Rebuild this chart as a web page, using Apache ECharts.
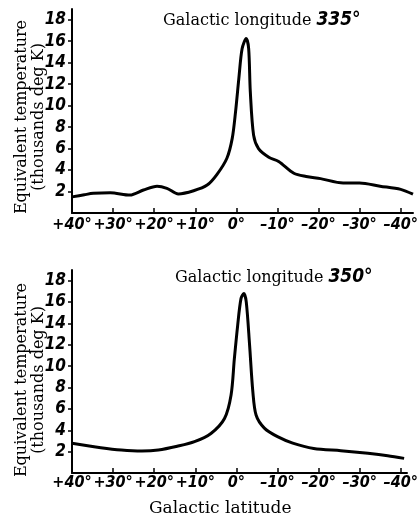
<!DOCTYPE html>
<html lang="en">
<head>
    <meta charset="UTF-8">
    <title>Galactic latitude profiles</title>
    <script src="https://cdn.jsdelivr.net/npm/echarts@6/dist/echarts.min.js"></script>
    <style>
        html, body { margin: 0; padding: 0; background: #fff; }
    </style>
</head>
<body>
    <div id="main" style="width:417px; height:519px;"></div>
    <script type="text/javascript">
        // longitude 335 deg profile (latitude, thousands deg K)
        var lat335 = [40, 37, 34.8, 30.7, 25.9, 22.6, 19.3, 16.9, 14.1, 10.4, 7.1, 4.7, 2.3, 1.0, 0.2, -0.6, -1.4, -2.4, -3.0, -3.4, -4.2, -5.4, -7.9, -10.3, -14, -17, -20.5, -26, -30, -35, -40, -43];
        var temp335 = [1.5, 1.7, 1.83, 1.89, 1.67, 2.14, 2.5, 2.3, 1.77, 2.07, 2.6, 3.6, 5.1, 6.95, 9.4, 12.5, 15.3, 16.25, 15.3, 11.3, 7.25, 6.0, 5.2, 4.8, 3.7, 3.4, 3.2, 2.8, 2.8, 2.5, 2.2, 1.75];

        // longitude 350 deg profile
        var lat350 = [40, 33, 28, 23, 19, 14.4, 10.2, 6.2, 2.9, 1.3, 0.5, -0.3, -1.1, -1.8, -2.4, -3.2, -4.0, -4.8, -6.8, -10, -13.7, -18.8, -25.4, -32, -36.8, -40.8];
        var temp350 = [2.78, 2.37, 2.15, 2.06, 2.15, 2.5, 2.93, 3.7, 5.1, 7.3, 10.7, 13.8, 16.3, 16.8, 16.0, 12.0, 7.6, 5.4, 4.2, 3.4, 2.8, 2.3, 2.08, 1.84, 1.62, 1.37];

        var yTicks = [2, 4, 6, 8, 10, 12, 14, 16, 18];
        var xTicks = [40, 30, 20, 10, 0, -10, -20, -30, -40];

        var numFont = "'Liberation Sans Narrow', 'DejaVu Sans Condensed', 'Liberation Sans', sans-serif";
        var textFont = "'DejaVu Serif', 'Liberation Serif', serif";

        function pairs(xs, ys) {
            var out = [];
            for (var i = 0; i < xs.length; i++) out.push([xs[i], ys[i]]);
            return out;
        }

        function latLabel(v) {
            if (v > 0) return '+' + v + '°';
            if (v < 0) return '\u2013' + (-v) + '°';
            return '0°';
        }

        function xAxisCfg(gridIndex, minVal, margin) {
            return {
                type: 'value',
                gridIndex: gridIndex,
                inverse: true,
                min: minVal,
                max: 40,
                axisLine: { onZero: false, lineStyle: { color: '#000', width: 2 } },
                axisTick: { inside: true, length: 5, customValues: xTicks, lineStyle: { color: '#000', width: 1.5 } },
                axisLabel: {
                    customValues: xTicks,
                    formatter: latLabel,
                    margin: margin,
                    showMinLabel: true,
                    showMaxLabel: true,
                    hideOverlap: false,
                    color: '#000',
                    fontFamily: numFont,
                    fontSize: 16,
                    fontStyle: 'italic',
                    fontWeight: 'bold'
                },
                splitLine: { show: false }
            };
        }

        function yAxisCfg(gridIndex) {
            return {
                type: 'value',
                gridIndex: gridIndex,
                min: 0,
                max: 19,
                axisLine: { show: true, onZero: false, lineStyle: { color: '#000', width: 2 } },
                axisTick: { show: true, length: 4, customValues: yTicks, lineStyle: { color: '#000', width: 1.5 } },
                axisLabel: {
                    customValues: yTicks,
                    margin: 6,
                    color: '#000',
                    fontFamily: numFont,
                    fontSize: 17,
                    fontStyle: 'italic',
                    fontWeight: 'bold'
                },
                splitLine: { show: false }
            };
        }

        function yName(cy) {
            return {
                type: 'text',
                x: 30,
                y: cy,
                rotation: Math.PI / 2,
                style: {
                    text: 'Equivalent temperature\n(thousands deg K)',
                    font: '16px ' + textFont,
                    fill: '#000',
                    align: 'center',
                    verticalAlign: 'middle',
                    lineHeight: 17
                }
            };
        }

        var titleRich = {
            a: { fontFamily: textFont, fontSize: 16, fontWeight: 'normal', color: '#000' },
            b: { fontFamily: numFont, fontSize: 19, fontStyle: 'italic', fontWeight: 'bold', color: '#000' }
        };

        var myChart = echarts.init(document.getElementById('main'));

        myChart.setOption({
            backgroundColor: '#fff',
            animation: false,
            title: [
                { text: '{a|Galactic longitude} {b|335°}', left: 158, top: 6, textStyle: { rich: titleRich } },
                { text: '{a|Galactic longitude} {b|350°}', left: 170, top: 263, textStyle: { rich: titleRich } },
                { text: 'Galactic latitude', left: 144, top: 495, textStyle: { fontFamily: textFont, fontSize: 17, fontWeight: 'normal', color: '#000' } }
            ],
            graphic: [yName(117), yName(380)],
            grid: [
                { left: 72, top: 9, width: 341, height: 204, outerBoundsMode: 'none', containLabel: false },
                { left: 72, top: 270, width: 335, height: 203, outerBoundsMode: 'none', containLabel: false }
            ],
            xAxis: [xAxisCfg(0, -43, 4), xAxisCfg(1, -41.5, 2)],
            yAxis: [yAxisCfg(0), yAxisCfg(1)],
            series: [
                {
                    type: 'line',
                    xAxisIndex: 0,
                    yAxisIndex: 0,
                    data: pairs(lat335, temp335),
                    smooth: 0.3,
                    showSymbol: false,
                    lineStyle: { color: '#000', width: 3 }
                },
                {
                    type: 'line',
                    xAxisIndex: 1,
                    yAxisIndex: 1,
                    data: pairs(lat350, temp350),
                    smooth: 0.3,
                    showSymbol: false,
                    lineStyle: { color: '#000', width: 3 }
                }
            ]
        });
    </script>
</body>
</html>
